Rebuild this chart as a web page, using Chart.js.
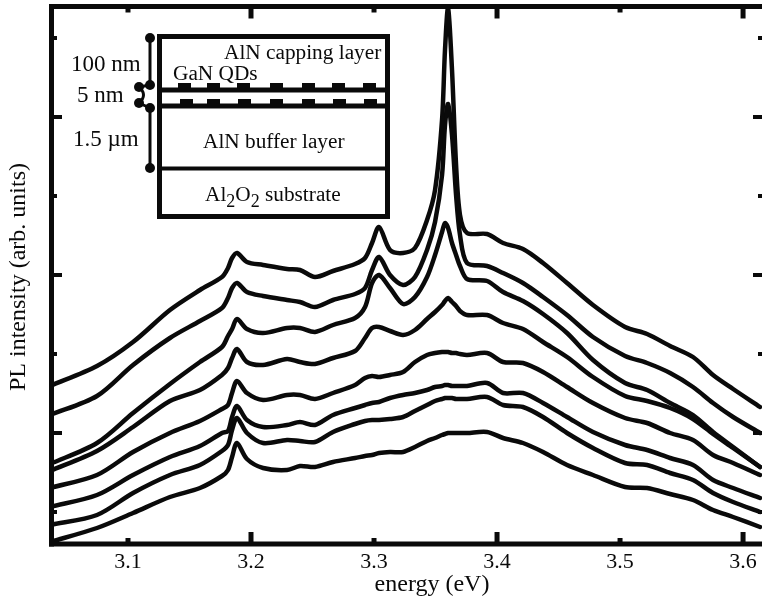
<!DOCTYPE html>
<html>
<head>
<meta charset="utf-8">
<title>PL spectra of GaN QDs</title>
<script src="https://cdn.jsdelivr.net/npm/chart.js@4/dist/chart.umd.min.js"></script>
<style>
    html, body { margin: 0; padding: 0; background: #fff; }
    #wrap { width: 762px; height: 600px; }
</style>
</head>
<body>
<div id="wrap"><canvas id="plChart" width="762" height="600"></canvas></div>
<script>
// shared energy grid (eV)
const energy = [3.0366, 3.0748, 3.1041, 3.1341, 3.1585, 3.1764, 3.1813, 3.1846, 3.1886, 3.1967,
    3.2098, 3.2293, 3.2398, 3.2520, 3.2667, 3.2846, 3.2927, 3.2984, 3.3041, 3.3130,
    3.3236, 3.3333, 3.3431, 3.3496, 3.3553, 3.3577, 3.3602, 3.3634, 3.3667, 3.3699,
    3.3756, 3.3919, 3.4049, 3.4211, 3.4374, 3.4569, 3.4780, 3.5041, 3.5220, 3.5407,
    3.5593, 3.5756, 3.5919, 3.6138];

// intensity in arb. units, top spectrum first
const spectrum1 = [158, 178, 202, 234, 254, 267, 276, 286, 291, 282, 279, 275, 274, 267, 273, 280, 286, 301, 317, 294, 291, 296, 324, 354, 424, 494, 536, 474, 379, 329, 311, 310, 301, 295, 281, 261, 239, 217, 210, 198, 187, 169, 155, 137];
const spectrum2 = [129, 148, 179, 206, 223, 236, 246, 256, 261, 252, 248, 244, 242, 237, 244, 250, 256, 274, 287, 269, 259, 267, 294, 322, 369, 419, 440, 409, 349, 309, 281, 278, 271, 261, 247, 229, 207, 188, 181, 171, 157, 141, 127, 111];
const spectrum3 = [80, 101, 131, 160, 182, 197, 208, 215, 225, 215, 211, 216, 216, 212, 219, 226, 237, 261, 269, 256, 240, 247, 267, 289, 312, 321, 316, 301, 289, 278, 265, 263, 252, 243, 230, 211, 184, 161, 154, 141, 129, 112, 97, 77];
const spectrum4 = [73, 93, 117, 143, 154, 169, 176, 186, 195, 182, 179, 185, 182, 180, 186, 193, 206, 216, 217, 213, 209, 214, 225, 232, 239, 243, 246, 242, 238, 233, 229, 229, 221, 215, 202, 187, 167, 148, 143, 136, 125, 110, 96, 77];
const spectrum5 = [56, 69, 92, 111, 123, 135, 139, 151, 163, 151, 144, 149, 149, 145, 151, 159, 166, 168, 167, 169, 172, 182, 189, 191, 192, 192, 192, 191, 191, 190, 189, 191, 182, 181, 172, 157, 141, 126, 121, 111, 104, 89, 81, 69];
const spectrum6 = [37, 49, 69, 87, 98, 111, 113, 127, 138, 124, 117, 119, 122, 119, 129, 136, 139, 141, 142, 146, 149, 151, 154, 157, 158, 159, 159, 158, 158, 158, 158, 161, 151, 151, 141, 127, 112, 99, 94, 86, 79, 64, 56, 46];
const spectrum7 = [19, 29, 51, 69, 79, 93, 99, 114, 126, 111, 101, 104, 103, 102, 112, 120, 123, 124, 124, 125, 127, 133, 139, 143, 145, 146, 146, 146, 145, 145, 145, 147, 139, 137, 127, 111, 96, 81, 79, 71, 64, 51, 42, 32];
const spectrum8 = [2, 16, 31, 47, 56, 68, 74, 87, 101, 85, 76, 74, 78, 77, 82, 86, 88, 89, 91, 92, 92, 97, 103, 106, 109, 110, 111, 111, 111, 111, 111, 112, 106, 101, 92, 79, 69, 57, 56, 50, 44, 34, 27, 17];

const xTicks = [3.1, 3.2, 3.3, 3.4, 3.5, 3.6];
const xLongTicks = [3.2, 3.4, 3.6];
const yTicks = [32, 111, 190, 269, 348, 427, 506];
const yLongTicks = [111, 269, 427];

const xLabel = "energy (eV)";
const yLabel = "PL intensity (arb. units)";

const SERIF = '"Liberation Serif", "Times New Roman", serif';
const INK = "#0a0a0a";

function toPoints(values) {
    return values.map((v, i) => ({ x: energy[i], y: v }));
}

function lineSet(values) {
    return {
        data: toPoints(values),
        borderColor: INK,
        borderWidth: 4.5,
        borderJoinStyle: "round",
        borderCapStyle: "round",
        pointRadius: 0,
        fill: false,
        tension: 0.3
    };
}

function drawLine(ctx, x1, y1, x2, y2, width) {
    ctx.lineWidth = width;
    ctx.beginPath();
    ctx.moveTo(x1, y1);
    ctx.lineTo(x2, y2);
    ctx.stroke();
}

function drawDot(ctx, x, y) {
    ctx.beginPath();
    ctx.arc(x, y, 5, 0, Math.PI * 2);
    ctx.fill();
}

// frame and inward ticks on all four sides
function drawFrame(chart) {
    const ctx = chart.ctx;
    const a = chart.chartArea;
    const xs = chart.scales.x;
    const ys = chart.scales.y;
    ctx.save();
    ctx.strokeStyle = INK;
    drawLine(ctx, 51.5, 4, 51.5, 546.5, 5);
    drawLine(ctx, 49, 544, a.right, 544, 5);
    drawLine(ctx, 49, 6.5, a.right, 6.5, 5);
    xTicks.forEach(t => {
        const px = xs.getPixelForValue(t);
        const len = xLongTicks.includes(t) ? 12 : 6;
        drawLine(ctx, px, 544, px, 544 - len, 5);
        drawLine(ctx, px, 6.5, px, 6.5 + len, 5);
    });
    yTicks.forEach(t => {
        const py = ys.getPixelForValue(t);
        const long = yLongTicks.includes(t);
        drawLine(ctx, 51.5, py, long ? 62 : 57, py, 4);
        drawLine(ctx, a.right, py, a.right - (long ? 9 : 4), py, 4);
    });
    ctx.restore();
}

function drawTitles(chart) {
    const ctx = chart.ctx;
    ctx.save();
    ctx.fillStyle = INK;
    ctx.font = "24px " + SERIF;
    ctx.textAlign = "center";
    ctx.textBaseline = "alphabetic";
    ctx.fillText(xLabel, 432, 591);
    ctx.translate(25, 277);
    ctx.rotate(-Math.PI / 2);
    ctx.fillText(yLabel, 0, 0);
    ctx.restore();
}

// the sample structure sketch in the upper left
function drawInset(chart) {
    const ctx = chart.ctx;
    ctx.save();
    ctx.strokeStyle = INK;
    ctx.fillStyle = INK;

    ctx.lineWidth = 5;
    ctx.strokeRect(159.5, 36.5, 228, 180);
    drawLine(ctx, 159, 90, 388, 90, 5);
    drawLine(ctx, 159, 106, 388, 106, 5);
    drawLine(ctx, 159, 168.5, 388, 168.5, 4);

    const dashesTop = [178, 207, 237, 270, 302, 332, 363];
    const dashesLow = [180, 207, 238, 270, 302, 333, 364];
    dashesTop.forEach(x => ctx.fillRect(x, 83, 13, 5));
    dashesLow.forEach(x => ctx.fillRect(x, 99, 13, 5));

    drawLine(ctx, 150, 38, 150, 85, 3);
    drawLine(ctx, 150, 108, 150, 168, 3);
    drawLine(ctx, 139, 87, 150, 85, 3);
    drawLine(ctx, 139, 103, 150, 108, 3);
    ctx.lineWidth = 3;
    ctx.beginPath();
    ctx.moveTo(139, 87);
    ctx.quadraticCurveTo(148, 95, 139, 103);
    ctx.stroke();
    [[150, 38], [150, 85], [139, 87], [139, 103], [150, 108], [150, 168]].forEach(p => drawDot(ctx, p[0], p[1]));

    ctx.textAlign = "left";
    ctx.textBaseline = "alphabetic";
    ctx.font = "23px " + SERIF;
    ctx.fillText("100 nm", 71, 71);
    ctx.fillText("5 nm", 77, 102);
    ctx.fillText("1.5 \u00b5m", 73, 146);

    ctx.font = "21.3px " + SERIF;
    ctx.fillText("AlN capping layer", 224, 59);
    ctx.fillText("GaN QDs", 173, 80);
    ctx.fillText("AlN buffer layer", 203, 148);

    // Al2O2 with lowered 2s, drawn piece by piece
    let x = 205;
    [["Al", 0, 21.3], ["2", 6, 18], ["O", 0, 21.3], ["2", 6, 18], [" substrate", 0, 21.3]].forEach(part => {
        ctx.font = part[2] + "px " + SERIF;
        ctx.fillText(part[0], x, 201 + part[1]);
        x += ctx.measureText(part[0]).width;
    });
    ctx.restore();
}

const decorations = {
    id: "decorations",
    afterDraw(chart) {
        drawFrame(chart);
        drawTitles(chart);
        drawInset(chart);
    }
};

new Chart(document.getElementById("plChart").getContext("2d"), {
    type: "line",
    data: {
        datasets: [spectrum1, spectrum2, spectrum3, spectrum4, spectrum5, spectrum6, spectrum7, spectrum8].map(lineSet)
    },
    options: {
        responsive: false,
        animation: false,
        layout: { padding: { top: 6, right: 0, bottom: 0, left: 0 } },
        plugins: { legend: { display: false }, tooltip: { enabled: false } },
        scales: {
            x: {
                type: "linear",
                min: 3.0366,
                max: 3.6154,
                grid: { display: false },
                border: { display: false },
                afterBuildTicks(scale) {
                    scale.ticks = xTicks.map(v => ({ value: v }));
                },
                afterFit(scale) {
                    scale.height = 56;
                },
                ticks: {
                    color: INK,
                    padding: -3,
                    maxRotation: 0,
                    font: { family: SERIF, size: 22 },
                    callback: v => v.toFixed(1)
                }
            },
            y: {
                min: 0,
                max: 538,
                grid: { display: false },
                border: { display: false },
                afterBuildTicks(scale) {
                    scale.ticks = yTicks.map(v => ({ value: v }));
                },
                afterFit(scale) {
                    scale.width = 50;
                },
                ticks: { display: false }
            }
        }
    },
    plugins: [decorations]
});
</script>
</body>
</html>
